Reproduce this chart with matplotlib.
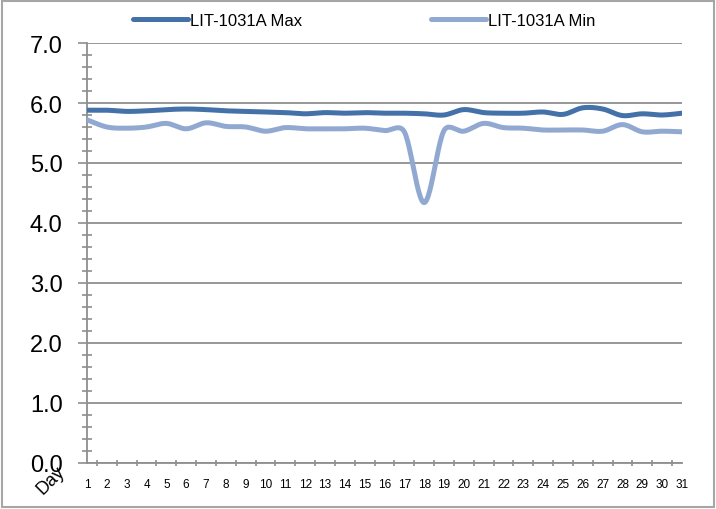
import numpy as np
import matplotlib
matplotlib.use("Agg")
import matplotlib.pyplot as plt
from matplotlib.lines import Line2D
from matplotlib.patches import Rectangle

plt.rcParams['font.family'] = ['Liberation Sans', 'DejaVu Sans']

days = list(range(1, 32))
day_labels = [str(d) for d in days]
max_vals = [5.88, 5.88, 5.86, 5.87, 5.89, 5.90, 5.89, 5.87, 5.86, 5.85,
            5.84, 5.82, 5.84, 5.83, 5.84, 5.83, 5.83, 5.82, 5.80, 5.89,
            5.84, 5.83, 5.83, 5.85, 5.81, 5.92, 5.90, 5.79, 5.82, 5.80, 5.83]
min_vals = [5.72, 5.60, 5.58, 5.60, 5.66, 5.57, 5.67, 5.61, 5.60, 5.53,
            5.59, 5.57, 5.57, 5.57, 5.58, 5.54, 5.52, 4.34, 5.54, 5.53,
            5.66, 5.59, 5.58, 5.55, 5.55, 5.55, 5.53, 5.64, 5.52, 5.53, 5.52]
series_names = ["LIT-1031A Max", "LIT-1031A Min"]
colors = ["#4471A8", "#91A9D1"]
y_ticks = [0, 1, 2, 3, 4, 5, 6, 7]


def smooth(ax, x, y, n=24):
    """Excel-like smoothed Bezier line, computed in display space."""
    pts = ax.transData.transform(np.column_stack([x, y]))
    P = np.vstack([pts[0], pts, pts[-1]])
    t = np.linspace(0, 1, n, endpoint=False)[:, None]
    out = []
    for i in range(1, len(P) - 2):
        p0, p1, p2, p3 = P[i - 1], P[i], P[i + 1], P[i + 2]
        d12 = np.hypot(*(p2 - p1))
        d02 = np.hypot(*(p2 - p0))
        d13 = np.hypot(*(p3 - p1))
        f0 = 1 / 6 if d02 / 6 < d12 / 2 else d12 / d02 / 2
        f1 = 1 / 6 if d13 / 6 < d12 / 2 else d12 / d13 / 2
        b1 = p1 + (p2 - p0) * f0
        b2 = p2 - (p3 - p1) * f1
        seg = ((1 - t) ** 3) * p1 + 3 * ((1 - t) ** 2) * t * b1 \
            + 3 * (1 - t) * t ** 2 * b2 + t ** 3 * p2
        out.append(seg)
    out.append(pts[-1][None, :])
    out = np.vstack(out)
    return ax.transData.inverted().transform(out).T


fig = plt.figure(figsize=(7.16, 5.10), dpi=100)
ax = fig.add_axes([87 / 716, 1 - 464 / 510, (682 - 87) / 716, (464 - 44) / 510])
ax.set_xlim(1, 31)
ax.set_ylim(0, 7)

grid_c = "#8f8f8f"
for v in y_ticks:
    ax.axhline(v, color=grid_c, lw=1.3, zorder=1)

for vals, c in zip([max_vals, min_vals], colors):
    sx, sy = smooth(ax, days, vals)
    ax.plot(sx, sy, color=c, lw=3.6, solid_capstyle='round', zorder=3)

ax.set_yticks(y_ticks)
ax.set_yticklabels([f"{v:.1f}" for v in y_ticks])
ax.set_yticks(np.arange(0, 7.01, 0.2), minor=True)
ax.tick_params(axis='y', which='major', direction='out', length=6.5, width=1.2,
               color=grid_c, labelsize=17, pad=11)
ax.tick_params(axis='y', which='minor', direction='inout', length=7.5, width=1.2,
               color=grid_c)

ax.set_xticks(days)
ax.set_xticklabels(day_labels)
ax.set_xticks([1] + [d + 0.5 for d in days[:-1]] + [31], minor=True)
ax.tick_params(axis='x', which='major', length=0, labelsize=8.5, pad=10.5)
ax.tick_params(axis='x', which='minor', direction='inout', length=5, width=1.2,
               color=grid_c)

for s in ['top', 'right']:
    ax.spines[s].set_visible(False)
for s in ['left', 'bottom']:
    ax.spines[s].set_color(grid_c)
    ax.spines[s].set_linewidth(1.3)

handles = [Line2D([], [], color=c, lw=3.6, solid_capstyle='round') for c in colors]
fig.legend(handles, series_names, loc='center left', ncol=2,
           bbox_to_anchor=(133 / 716, 1 - 21 / 510), frameon=False,
           fontsize=12, handlelength=3.3, handletextpad=0.15,
           columnspacing=7.7, borderpad=0, borderaxespad=0)

fig.text(51 / 716, 1 - 481 / 510, "Day", rotation=45, ha='center', va='center',
         fontsize=13)

fig.patches.append(Rectangle((2 / 716, 2 / 510), 712 / 716, 506 / 510,
                             transform=fig.transFigure, fill=False,
                             edgecolor='#a6a6a6', lw=1.5))

fig.savefig("out.png", dpi=100)
